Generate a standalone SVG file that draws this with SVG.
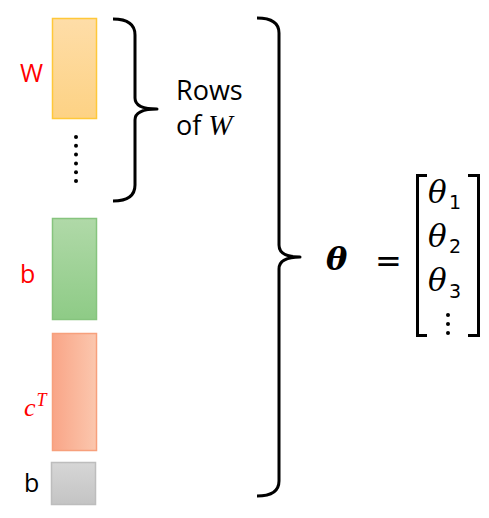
<svg xmlns="http://www.w3.org/2000/svg" width="489" height="518" viewBox="0 0 489 518">
<defs>
<linearGradient id="gOr" x1="0" y1="0" x2="0" y2="1"><stop offset="0" stop-color="#fedda8"/><stop offset="1" stop-color="#fdd284"/></linearGradient>
<linearGradient id="gGr" x1="0" y1="0" x2="0" y2="1"><stop offset="0" stop-color="#b0d9a8"/><stop offset="1" stop-color="#8ecb86"/></linearGradient>
<linearGradient id="gCo" x1="0" y1="0" x2="1" y2="0"><stop offset="0" stop-color="#f9a587"/><stop offset="1" stop-color="#fbc7ae"/></linearGradient>
<linearGradient id="gGy" x1="0" y1="0" x2="0" y2="1"><stop offset="0" stop-color="#d6d6d6"/><stop offset="1" stop-color="#c4c4c4"/></linearGradient>
</defs>
<style>
.lbl{font-family:"Open Sans","Liberation Sans",sans-serif;font-size:25px}
.big{font-size:27px}
.red{fill:#ff0000}
.math{font-family:"Liberation Serif","DejaVu Serif",serif;font-style:italic}
.th{font-family:"DejaVu Serif",serif;font-style:italic;font-size:31px;fill:#000}
.sub{font-family:"DejaVu Sans",sans-serif;font-size:19px;fill:#000}
.brace{fill:none;stroke:#000;stroke-width:3;stroke-linecap:butt;stroke-linejoin:round}
.brk{fill:none;stroke:#000;stroke-width:3}
</style>
<rect width="489" height="518" fill="#ffffff"/>
<g id="node-w">
<rect x="52.5" y="18.5" width="44" height="100" fill="url(#gOr)" stroke="#ffc839" stroke-width="1.5"/>
<text class="lbl red" x="20" y="82">W</text>
</g>
<g id="node-dots" fill="#000">
<circle cx="76" cy="137" r="2"/><circle cx="76" cy="145.8" r="2"/><circle cx="76" cy="154.6" r="2"/><circle cx="76" cy="163.4" r="2"/><circle cx="76" cy="172.2" r="2"/><circle cx="76" cy="181" r="2"/>
</g>
<g id="node-b1">
<rect x="52.5" y="218.5" width="44" height="101" fill="url(#gGr)" stroke="#86c47e" stroke-width="1.5"/>
<text class="lbl red" x="20" y="283">b</text>
</g>
<g id="node-c">
<rect x="52.5" y="333.5" width="44" height="117" fill="url(#gCo)" stroke="#f7a07c" stroke-width="1.5"/>
<text class="math red" x="24" y="415.5" font-size="26">c</text>
<text class="math red" x="36.5" y="406" font-size="18">T</text>
</g>
<g id="node-b2">
<rect x="51.5" y="462.5" width="44" height="42" fill="url(#gGy)" stroke="#bdbdbd" stroke-width="1.5"/>
<text class="lbl" x="24" y="492" fill="#000">b</text>
</g>
<g id="connectors">
<path class="brace" d="M113,19 Q135,19 135,35 L135,98 Q135,109 157,109 Q135,109 135,120 L135,185 Q135,201 113,201"/>
<path class="brace" d="M257,18 Q279,18 279,33 L279,245 Q279,257 300,257 Q279,257 279,269 L279,481 Q279,496 257,496"/>
</g>
<g id="node-rows">
<text class="lbl big" x="176" y="100" fill="#000">Rows</text>
<text class="lbl big" x="176" y="135" fill="#000">of <tspan class="math" font-family="Liberation Serif, serif" font-size="29">W</tspan></text>
</g>
<g id="node-theta">
<text x="326" y="270" font-family="DejaVu Serif, serif" font-style="italic" font-weight="bold" font-size="32" fill="#000">θ</text>
<text font-family="DejaVu Sans, sans-serif" x="375" y="272" font-size="32" fill="#000">=</text>
<path class="brk" d="M427,175.5 L417.5,175.5 L417.5,335.5 L427,335.5"/>
<path class="brk" d="M468,175.5 L478.5,175.5 L478.5,335.5 L468,335.5"/>
<text class="th" x="428" y="203">θ</text>
<text class="sub" x="449" y="209">1</text>
<text class="th" x="428" y="247">θ</text>
<text class="sub" x="449" y="253">2</text>
<text class="th" x="428" y="291">θ</text>
<text class="sub" x="449" y="298">3</text>
<circle cx="448" cy="315" r="2"/><circle cx="448" cy="324" r="2"/><circle cx="448" cy="333" r="2"/>
</g>
</svg>
